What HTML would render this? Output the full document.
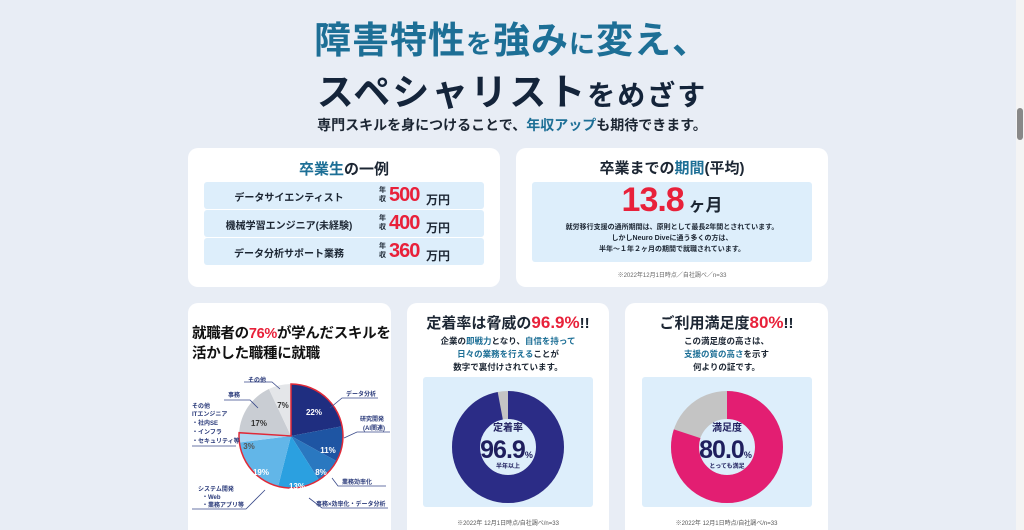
<!DOCTYPE html>
<html><head><meta charset="utf-8"><style>
*{margin:0;padding:0;box-sizing:border-box}
html,body{width:1024px;height:530px;overflow:hidden}
body{background:#e8edf5;font-family:"Liberation Sans","Noto Sans CJK JP",sans-serif;position:relative;color:#1c2633;font-weight:bold}
.a{position:absolute}
.card{position:absolute;background:#fff;border-radius:10px}
.c{text-align:center}
.blue{color:#1d6f96}
.red{color:#e8213a}
.row{position:absolute;left:16px;width:280px;height:27px;background:#ddeefb;border-radius:3px;font-size:10px}
.row .l{position:absolute;left:0;width:170px;text-align:center;top:7px}
.row .y{position:absolute;left:175px;top:4px;font-size:7px;line-height:9px;width:8px}
.row .n{position:absolute;left:185px;top:2px;font-size:20px;color:#e8213a;font-family:"Liberation Sans Narrow","Liberation Sans",sans-serif;letter-spacing:-1px}
.row .u{position:absolute;left:222px;top:9px;font-size:12px}
.sb{position:absolute;left:1016px;top:0;width:8px;height:530px;background:#f4f4f4}
</style></head><body>
<div class="a c blue" style="left:0;width:1024px;top:10px;font-size:37px;letter-spacing:1px">障害特性<span style="font-size:26px">を</span>強み<span style="font-size:26px">に</span>変え、</div>
<div class="a c" style="left:0;width:1024px;top:62px;font-size:37px;color:#14243a;letter-spacing:2px">スペシャリスト<span style="font-size:28px">をめざす</span></div>
<div class="a c" style="left:0;width:1024px;top:115px;font-size:14px">専門スキルを身につけることで、<span class="blue">年収アップ</span>も期待できます。</div>

<div class="card" style="left:188px;top:148px;width:312px;height:139px">
 <div class="a c" style="left:0;width:312px;top:10px;font-size:15px"><span class="blue">卒業生</span>の一例</div>
 <div class="row" style="top:34px"><div class="l">データサイエンティスト</div><div class="y">年収</div><div class="n">500</div><div class="u">万円</div></div>
 <div class="row" style="top:62px"><div class="l">機械学習エンジニア(未経験)</div><div class="y">年収</div><div class="n">400</div><div class="u">万円</div></div>
 <div class="row" style="top:90px"><div class="l">データ分析サポート業務</div><div class="y">年収</div><div class="n">360</div><div class="u">万円</div></div>
</div>

<div class="card" style="left:516px;top:148px;width:312px;height:139px">
 <div class="a c" style="left:0;width:312px;top:9px;font-size:15px">卒業までの<span class="blue">期間</span>(平均)</div>
 <div class="a" style="left:16px;top:34px;width:280px;height:80px;background:#ddeefb;border-radius:3px"></div>
 <div class="a c" style="left:0;width:312px;top:33px"><span style="font-size:34px;color:#e8213a;font-family:'Liberation Sans Narrow','Liberation Sans',sans-serif;letter-spacing:-1px">13.8</span><span style="font-size:17px"> ヶ月</span></div>
 <div class="a c" style="left:0;width:312px;top:74px;font-size:7px;line-height:11px">就労移行支援の通所期間は、原則として最長2年間とされています。<br>しかしNeuro Diveに通う多くの方は、<br>半年～１年２ヶ月の期間で就職されています。</div>
 <div class="a c" style="left:0;width:312px;top:122px;font-size:6px;color:#666;font-weight:normal">※2022年12月1日時点／自社調べ／n=33</div>
</div>

<div class="card" style="left:188px;top:303px;width:203px;height:240px">
 <div class="a" style="left:4px;top:21px;font-size:14.5px;line-height:20px;color:#111;white-space:nowrap;letter-spacing:-0.3px">就職者の<span class="red">76%</span>が学んだスキルを<br>活かした職種に就職</div>
</div>
<svg class="a" style="left:0;top:0" width="1024" height="530">
 <g>
 <path d="M291,436 L291,384 A52,52 0 0 1 342.1,426.3Z" fill="#1f2e80"/>
 <path d="M291,436 L342.1,426.3 A52,52 0 0 1 336.6,461.1Z" fill="#1e55a3"/>
 <path d="M291,436 L336.6,461.1 A52,52 0 0 1 318.9,479.9Z" fill="#2a78c0"/>
 <path d="M291,436 L318.9,479.9 A52,52 0 0 1 278.1,486.4Z" fill="#2ba0e0"/>
 <path d="M291,436 L278.1,486.4 A52,52 0 0 1 239.4,442.5Z" fill="#62b6e8"/>
 <path d="M291,436 L239.4,442.5 A52,52 0 0 1 239.1,432.7Z" fill="#a9d5f2"/>
 <path d="M291,436 L239.1,432.7 A52,52 0 0 1 268.9,389Z" fill="#c9cdd3"/>
 <path d="M291,436 L268.9,389 A52,52 0 0 1 291,384Z" fill="#e4e6e9"/>
 <path d="M291,436 L291,384 A52,52 0 1 1 239.1,432.7Z" fill="none" stroke="#e02a38" stroke-width="1.5"/>
 </g>
 <g font-size="8" fill="#fff" text-anchor="middle" font-weight="bold">
 <text x="314" y="415">22%</text><text x="328" y="453">11%</text><text x="321" y="475">8%</text>
 <text x="297" y="489">13%</text><text x="261" y="475">19%</text><text x="249" y="449" fill="#555">3%</text>
 <text x="259" y="426" fill="#333">17%</text><text x="283" y="408" fill="#333">7%</text>
 </g>
 <g stroke="#3a4a8a" stroke-width="0.8" fill="none">
 <polyline points="330,408 342,398 378,398"/><polyline points="344,438 357,432 390,432"/>
 <polyline points="332,478 338,486 386,486"/><polyline points="309,498 322,508 388,508"/>
 <polyline points="265,490 246,509 192,509"/><polyline points="236,446 192,446"/>
 <polyline points="258,408 250,400 224,400"/><polyline points="280,389 272,382 244,382"/>
 </g>
 <g font-size="6" fill="#2a3a7a" font-weight="bold">
 <text x="346" y="396">データ分析</text>
 <text x="360" y="421">研究開発</text><text x="363" y="430">(AI関連)</text>
 <text x="342" y="484">業務効率化</text>
 <text x="316" y="506">事務×効率化・データ分析</text>
 <text x="198" y="491">システム開発</text><text x="202" y="499">・Web</text><text x="202" y="507">・業務アプリ等</text>
 <text x="192" y="408">その他</text><text x="192" y="416">ITエンジニア</text><text x="192" y="425">・社内SE</text><text x="192" y="434">・インフラ</text><text x="192" y="443">・セキュリティ等</text>
 <text x="228" y="397">事務</text><text x="248" y="382">その他</text>
 </g>
</svg>

<div class="card" style="left:407px;top:303px;width:202px;height:240px">
 <div class="a c" style="left:0;width:202px;top:9px;font-size:15px">定着率は脅威の<span class="red" style="font-size:17px">96.9%</span>!!</div>
 <div class="a c" style="left:0;width:202px;top:32px;font-size:8.5px;line-height:13px">企業の<span class="blue">即戦力</span>となり、<span class="blue">自信を持って<br>日々の業務を行える</span>ことが<br>数字で裏付けされています。</div>
 <div class="a" style="left:16px;top:74px;width:170px;height:130px;background:#ddeefb;border-radius:3px"></div>
 <div class="a c" style="left:0;width:202px;top:215px;font-size:6px;color:#555;font-weight:normal">※2022年 12月1日時点/自社調べ/n=33</div>
</div>
<div class="card" style="left:625px;top:303px;width:203px;height:240px">
 <div class="a c" style="left:0;width:203px;top:9px;font-size:15px">ご利用満足度<span class="red" style="font-size:17px">80%</span>!!</div>
 <div class="a c" style="left:0;width:203px;top:32px;font-size:8.5px;line-height:13px">この満足度の高さは、<br><span class="blue">支援の質の高さ</span>を示す<br>何よりの証です。</div>
 <div class="a" style="left:17px;top:74px;width:170px;height:130px;background:#ddeefb;border-radius:3px"></div>
 <div class="a c" style="left:0;width:203px;top:215px;font-size:6px;color:#555;font-weight:normal">※2022年 12月1日時点/自社調べ/n=33</div>
</div>
<svg class="a" style="left:0;top:0" width="1024" height="530">
 <circle cx="508" cy="447" r="42" fill="none" stroke="#c4c4c4" stroke-width="28"/>
 <circle cx="508" cy="447" r="42" fill="none" stroke="#2b2c86" stroke-width="28" stroke-dasharray="255.7 300" transform="rotate(-90 508 447)"/>
 <circle cx="727" cy="447" r="42" fill="none" stroke="#c4c4c4" stroke-width="28"/>
 <circle cx="727" cy="447" r="42" fill="none" stroke="#e31e72" stroke-width="28" stroke-dasharray="211.1 300" transform="rotate(-90 727 447)"/>
 <g fill="#1f1f5e" text-anchor="middle" font-weight="bold">
 <text x="508" y="431" font-size="10">定着率</text>
 <text x="506" y="458" font-size="25" letter-spacing="-1" font-family="Liberation Sans Narrow,Liberation Sans,sans-serif">96.9<tspan font-size="9">%</tspan></text>
 <text x="508" y="468" font-size="6">半年以上</text>
 <text x="727" y="431" font-size="10">満足度</text>
 <text x="725" y="458" font-size="25" letter-spacing="-1" font-family="Liberation Sans Narrow,Liberation Sans,sans-serif">80.0<tspan font-size="9">%</tspan></text>
 <text x="727" y="468" font-size="6">とっても満足</text>
 </g>
</svg>
<div class="sb"><div class="a" style="left:1px;top:108px;width:6px;height:32px;background:#888;border-radius:3px"></div></div>
</body></html>
